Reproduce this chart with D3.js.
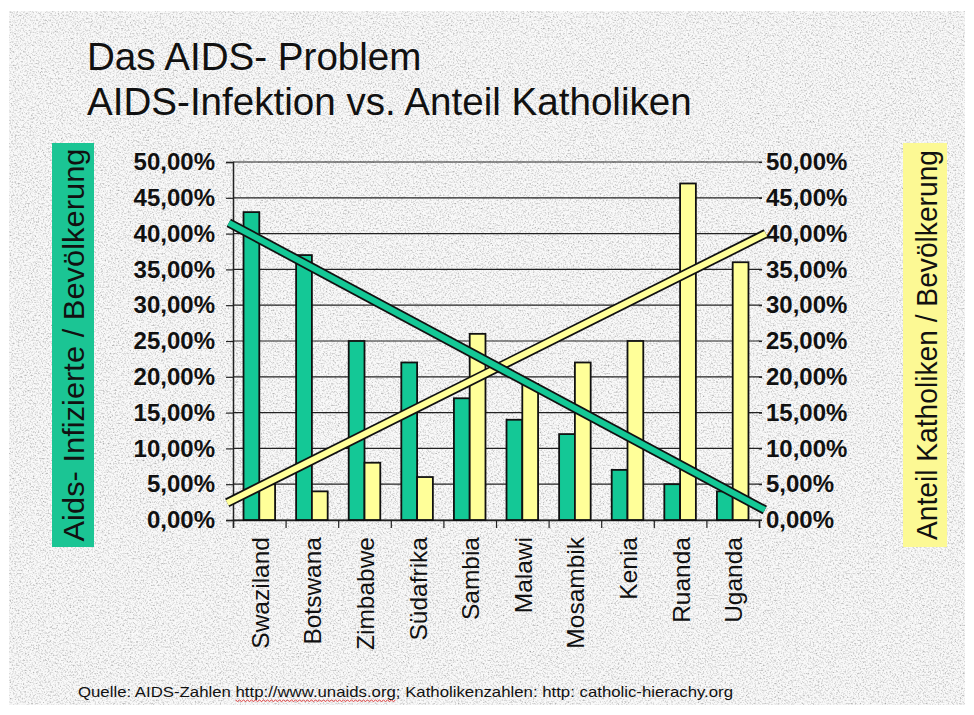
<!DOCTYPE html>
<html>
<head>
<meta charset="utf-8">
<script src="https://cdn.jsdelivr.net/npm/d3@7"></script>
<style>
  html, body { margin: 0; padding: 0; background: #ffffff; }
  svg { display: block; }
  text { font-family: Arial, "Liberation Sans", sans-serif; }
</style>
</head>
<body>
<svg id="chart" width="974" height="715"></svg>
<script>
// ---------- data ----------
const countries = ["Swaziland","Botswana","Zimbabwe","Südafrika","Sambia","Malawi","Mosambik","Kenia","Ruanda","Uganda"];
const aidsRate = [43, 37, 25, 22, 17, 14, 12, 7, 5, 4];          // % infected
const catholicRate = [5, 4, 8, 6, 26, 19, 22, 25, 47, 36];       // % catholics
const yTickValues = [0, 5, 10, 15, 20, 25, 30, 35, 40, 45, 50];
const yTickLabels = ["0,00%","5,00%","10,00%","15,00%","20,00%","25,00%","30,00%","35,00%","40,00%","45,00%","50,00%"];
// trend lines: position in category units (0 = left edge, 10 = right edge), value in %
const trendAidsPos = [-0.08, 10.11];
const trendAidsVal = [41.5, 1.4];
const trendCathPos = [-0.11, 10.13];
const trendCathVal = [2.4, 40.0];
const titleLines = ["Das AIDS- Problem", "AIDS-Infektion vs. Anteil Katholiken"];
const leftTitle = "Aids- Infizierte / Bevölkerung";
const rightTitle = "Anteil Katholiken / Bevölkerung";
const footer = "Quelle: AIDS-Zahlen http://www.unaids.org;  Katholikenzahlen: http: catholic-hierachy.org";

// ---------- styles ----------
const GREEN = "#14C896";
const YELLOW = "#FFFF99";
const BOX_GREEN = "#1BC594";
const BOX_YELLOW = "#FCF994";

const svg = d3.select("#chart");
const plot = { left: 233, right: 759, top: 162, bottom: 520 };

// ---------- background ----------
const defs = svg.append("defs");
const f = defs.append("filter").attr("id", "grain")
  .attr("x", 0).attr("y", 0).attr("width", "100%").attr("height", "100%");
f.append("feTurbulence").attr("type", "fractalNoise").attr("baseFrequency", 0.6)
  .attr("numOctaves", 3).attr("seed", 7).attr("result", "n");
f.append("feColorMatrix").attr("in", "n").attr("type", "matrix")
  .attr("values", "1.5 0 0 0 0.16  1.5 0 0 0 0.16  1.5 0 0 0 0.16  0 0 0 0 0.75");

svg.append("rect").attr("x", 9).attr("y", 11).attr("width", 956).attr("height", 694)
  .attr("fill", "#e8e8e8");
svg.append("rect").attr("x", 9).attr("y", 11).attr("width", 956).attr("height", 694)
  .attr("fill", "#fff").attr("filter", "url(#grain)");

// ---------- title ----------
svg.selectAll("text.title").data(titleLines).join("text")
  .attr("class", "title")
  .attr("x", 87).attr("y", (d, i) => 70 + i * 45)
  .attr("font-size", 38.6).attr("fill", "#111")
  .text(d => d);

// ---------- scales ----------
const x = d3.scaleBand().domain(countries).range([plot.left, plot.right]).paddingInner(0).paddingOuter(0);
const xLin = d3.scaleLinear().domain([0, countries.length]).range([plot.left, plot.right]);
const y = d3.scaleLinear().domain([0, 50]).range([plot.bottom, plot.top]);
const barW = x.bandwidth() * 0.3;
const groupOff = x.bandwidth() * 0.2;

// ---------- gridlines ----------
svg.append("g").selectAll("line").data(yTickValues).join("line")
  .attr("x1", plot.left).attr("x2", plot.right + 3)
  .attr("y1", d => y(d)).attr("y2", d => y(d))
  .attr("stroke", "#222").attr("stroke-width", 1.2);

// ---------- axes ----------
const fmt = d => yTickLabels[yTickValues.indexOf(d)];
const yLeft = svg.append("g").attr("transform", `translate(${plot.left},0)`)
  .call(d3.axisLeft(y).tickValues(yTickValues).tickFormat(fmt).tickSize(7).tickPadding(11));
const yRight = svg.append("g").attr("transform", `translate(${plot.right},0)`)
  .call(d3.axisRight(y).tickValues(yTickValues).tickFormat(fmt).tickSize(3).tickPadding(4));
yRight.select(".domain").remove();
[yLeft, yRight].forEach(g => {
  g.selectAll(".domain").attr("stroke", "#222").attr("stroke-width", 1.5);
  g.selectAll(".tick line").attr("stroke", "#222").attr("stroke-width", 1.2);
  g.selectAll(".tick text").attr("font-size", 24).attr("font-weight", "bold")
    .attr("fill", "#111").attr("font-family", "Arial, 'Liberation Sans', sans-serif");
});

const boundaries = d3.range(countries.length + 1);
const xAxis = svg.append("g").attr("transform", `translate(0,${plot.bottom})`)
  .call(d3.axisBottom(xLin).tickValues(boundaries).tickFormat("").tickSize(8));
xAxis.select(".domain").attr("stroke", "#222").attr("stroke-width", 1.5);
xAxis.selectAll(".tick line").attr("stroke", "#222").attr("stroke-width", 1.2);

// category labels
svg.append("g").selectAll("text").data(countries).join("text")
  .attr("transform", d => `translate(${x(d) + x.bandwidth() / 2 + 1},${plot.bottom + 17}) rotate(-90)`)
  .attr("text-anchor", "end").attr("dy", "0.35em")
  .attr("font-size", 24.5).attr("fill", "#111")
  .text(d => d);

// ---------- bars ----------
const bars = svg.append("g");
bars.selectAll("rect.aids").data(countries).join("rect")
  .attr("class", "aids")
  .attr("x", d => x(d) + groupOff)
  .attr("y", (d, i) => y(aidsRate[i]))
  .attr("width", barW)
  .attr("height", (d, i) => y(0) - y(aidsRate[i]))
  .attr("fill", GREEN).attr("stroke", "#111").attr("stroke-width", 1.8);
bars.selectAll("rect.cath").data(countries).join("rect")
  .attr("class", "cath")
  .attr("x", d => x(d) + groupOff + barW)
  .attr("y", (d, i) => y(catholicRate[i]))
  .attr("width", barW)
  .attr("height", (d, i) => y(0) - y(catholicRate[i]))
  .attr("fill", YELLOW).attr("stroke", "#111").attr("stroke-width", 1.8);

// ---------- trend lines ----------
function trend(posArr, valArr, color) {
  const pts = posArr.map((p, i) => [xLin(p), y(valArr[i])]);
  const line = d3.line();
  svg.append("path").attr("d", line(pts)).attr("stroke", "#111").attr("stroke-width", 9.5)
    .attr("fill", "none").attr("stroke-linecap", "butt");
  svg.append("path").attr("d", line(pts)).attr("stroke", color).attr("stroke-width", 6)
    .attr("fill", "none").attr("stroke-linecap", "butt");
}
trend(trendCathPos, trendCathVal, YELLOW);
trend(trendAidsPos, trendAidsVal, GREEN);

// ---------- axis title boxes ----------
svg.append("rect").attr("x", 52).attr("y", 143).attr("width", 42).attr("height", 404).attr("fill", BOX_GREEN);
svg.append("text")
  .attr("transform", `translate(74,${(143 + 547) / 2}) rotate(-90)`)
  .attr("text-anchor", "middle").attr("dy", "0.36em")
  .attr("font-size", 29).attr("fill", "#111")
  .attr("textLength", 393).attr("lengthAdjust", "spacingAndGlyphs")
  .text(leftTitle);
svg.append("rect").attr("x", 903).attr("y", 143).attr("width", 44).attr("height", 404).attr("fill", BOX_YELLOW);
svg.append("text")
  .attr("transform", `translate(927,${(143 + 547) / 2}) rotate(-90)`)
  .attr("text-anchor", "middle").attr("dy", "0.36em")
  .attr("font-size", 29).attr("fill", "#111")
  .attr("textLength", 390).attr("lengthAdjust", "spacingAndGlyphs")
  .text(rightTitle);

// ---------- footer ----------
const ft = svg.append("text")
  .attr("x", 78).attr("y", 697)
  .attr("font-size", 15).attr("fill", "#111")
  .attr("textLength", 655).attr("lengthAdjust", "spacingAndGlyphs")
  .text(footer);
// spell-check squiggles
const node = ft.node();
["http://www.unaids.org", "catholic-hierachy.org"].forEach(w => {
  const s = footer.indexOf(w), e = s + w.length - 1;
  try {
    const x0 = node.getStartPositionOfChar(s).x;
    const x1 = node.getEndPositionOfChar(e).x;
    const pts = [];
    for (let xx = x0, k = 0; xx <= x1; xx += 2, k++) pts.push([xx, 700 + (k % 2 ? 1.5 : 0)]);
    svg.append("path").attr("d", d3.line()(pts)).attr("fill", "none")
      .attr("stroke", "#e03030").attr("stroke-width", 0.9);
  } catch (err) {}
});
</script>
</body>
</html>
